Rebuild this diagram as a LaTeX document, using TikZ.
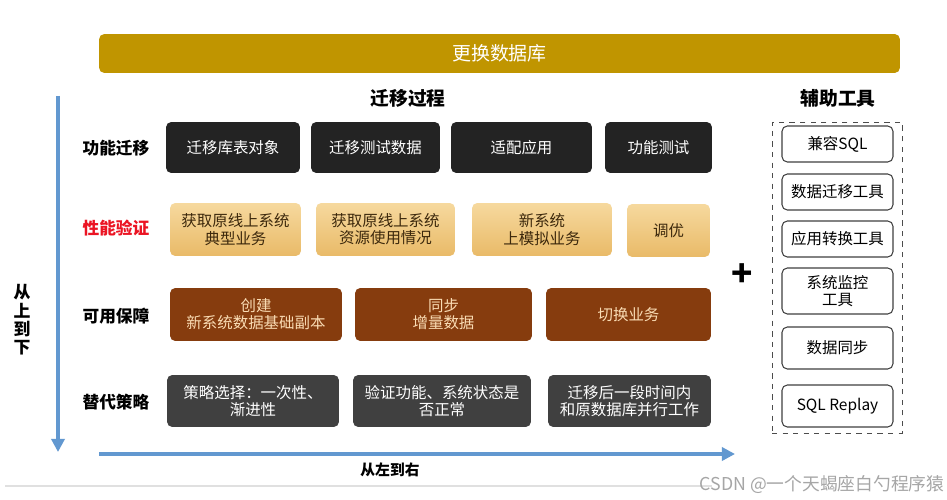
\documentclass[tikz,border=0pt]{standalone}
\usepackage{fontspec}
\setmainfont{Noto Sans CJK SC}
\usepackage{xcolor}
\usetikzlibrary{positioning, arrows.meta}
\definecolor{barGold}{RGB}{192,149,0}
\definecolor{boxBlack}{RGB}{35,35,35}
\definecolor{tanTop}{RGB}{246,217,158}
\definecolor{tanBot}{RGB}{233,186,104}
\definecolor{tanText}{RGB}{60,40,12}
\definecolor{brownBox}{RGB}{134,60,14}
\definecolor{brownText}{RGB}{250,220,180}
\definecolor{grayBox}{RGB}{64,64,64}
\definecolor{flowBlue}{RGB}{98,152,208}
\definecolor{alertRed}{RGB}{235,20,35}

\begin{document}
\begin{tikzpicture}[x=0.02cm,y=-0.02cm,
    box/.style={rounded corners=3pt, align=center, inner sep=0pt, font=\fontsize{8.8}{9.8}\selectfont},
    funcbox/.style={box, fill=boxBlack, text=white, minimum height=1.02cm},
    perfbox/.style={box, top color=tanTop, bottom color=tanBot, text=tanText, minimum height=1.06cm},
    availbox/.style={box, fill=brownBox, text=brownText, minimum height=1.06cm},
    altbox/.style={box, fill=grayBox, text=white, minimum height=1.04cm},
    toolbox/.style={box, draw=black!75, line width=0.6pt, fill=white, text=black, minimum width=2.22cm},
    rowlabel/.style={font=\fontsize{9.5}{11}\selectfont\bfseries},
    heading/.style={font=\fontsize{10.7}{12}\selectfont\bfseries},
    flow/.style={line width=2.2pt, draw=flowBlue, -{Triangle[length=7.5pt,width=7.5pt]}}]
\fill[white] (0,0) rectangle (947,500);
\useasboundingbox (0,0) rectangle (947,500);

% top bar
\node[box, fill=barGold, text=white, minimum width=16.02cm, minimum height=0.78cm,
      font=\fontsize{10.8}{12}\selectfont] (bar) at (499.5,53.5) {更换数据库};
\node[heading] (procTitle) at (408,98) {迁移过程};
\node[heading] (toolTitle) at (838,98) {辅助工具};

% row labels
\node[rowlabel] (lFunc) at (116,148) {功能迁移};
\node[rowlabel, text=alertRed] (lPerf) at (116,228) {性能验证};
\node[rowlabel] (lAvail) at (116,316) {可用保障};
\node[rowlabel] (lAlt) at (116,402) {替代策略};

% migration steps
\node[funcbox, minimum width=2.68cm] (f1) at (233,147.5) {迁移库表对象};
\node[funcbox, minimum width=2.58cm] (f2) at (375.5,147.5) {迁移测试数据};
\node[funcbox, minimum width=2.82cm] (f3) at (521.5,147.5) {适配应用};
\node[funcbox, minimum width=2.14cm] (f4) at (658.5,147.5) {功能测试};

\node[perfbox, minimum width=2.62cm] (p1) at (235.5,229.5) {获取原线上系统\\典型业务};
\node[perfbox, minimum width=2.78cm] (p2) at (385.5,229.5) {获取原线上系统\\资源使用情况};
\node[perfbox, minimum width=2.80cm] (p3) at (542,229.5) {新系统\\上模拟业务};
\node[perfbox, minimum width=1.66cm] (p4) at (668.5,230.5) {调优};

\node[availbox, minimum width=3.44cm] (a1) at (256,314.5) {创建\\新系统数据基础副本};
\node[availbox, minimum width=3.54cm] (a2) at (443.5,314.5) {同步\\增量数据};
\node[availbox, minimum width=3.30cm] (a3) at (628.5,314.5) {切换业务};

\node[altbox, minimum width=3.44cm] (s1) at (253,401) {策略选择：一次性、\\渐进性};
\node[altbox, minimum width=3.56cm] (s2) at (442,401) {验证功能、系统状态是\\否正常};
\node[altbox, minimum width=3.26cm] (s3) at (629.5,401) {迁移后一段时间内\\和原数据库并行工作};

% tools
\node[font=\fontsize{20}{20}\selectfont\bfseries] (plus) at (742,275) {+};
\node[draw=black!70, dashed, line width=0.5pt, minimum width=2.6cm, minimum height=6.22cm,
      inner sep=0pt] (toolFrame) at (837,277.5) {};
\node[toolbox, minimum height=0.72cm] (t1) at (837.5,144) {兼容SQL};
\node[toolbox, minimum height=0.72cm] (t2) at (837.5,192) {数据迁移工具};
\node[toolbox, minimum height=0.72cm] (t3) at (837.5,239) {应用转换工具};
\node[toolbox, minimum height=0.92cm] (t4) at (837.5,291) {系统监控\\工具};
\node[toolbox, minimum height=0.84cm] (t5) at (837.5,348) {数据同步};
\node[toolbox, minimum height=0.84cm] (t6) at (837.5,406) {SQL Replay};

% direction arrows
\coordinate (vTop) at (58,96);
\coordinate (vEnd) at (58,452);
\coordinate (hStart) at (99,454);
\coordinate (hEnd) at (735,454);
\draw[flow] (vTop) -- (vEnd);
\draw[flow] (hStart) -- (hEnd);
\node[font=\fontsize{9.6}{10.4}\selectfont\bfseries, align=center] (topDown) at (22,320) {从\\上\\到\\下};
\node[font=\fontsize{8.4}{10}\selectfont\bfseries] (leftRight) at (390,470) {从左到右};

% watermark
\coordinate (rule1) at (5,486);
\coordinate (rule2) at (712,486);
\draw[black!12, line width=0.8pt] (rule1) -- (rule2);
\node[text=black!35, font=\fontsize{10.1}{12}\selectfont] (mark) at (822,485) {CSDN @一个天蝎座白勺程序猿};
\end{tikzpicture}
\end{document}
